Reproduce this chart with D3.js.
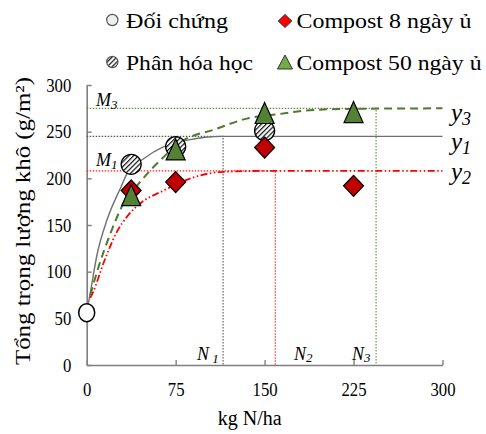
<!DOCTYPE html>
<html>
<head>
<meta charset="utf-8">
<script src="https://cdn.jsdelivr.net/npm/d3@7"></script>
<style>
  body { margin: 0; background: #fff; }
  text { font-family: "Liberation Serif", "Times New Roman", serif; }
</style>
</head>
<body>
<script>
// Measured points
const controlX = [0], controlY = [56];
const chemX = [37.5, 75, 150], chemY = [215, 234, 251];
const c8X = [37.5, 75, 150, 225], c8Y = [187, 196, 233, 192];
const c50X = [37.5, 75, 150, 225], c50Y = [182, 231, 270, 271];

// Fitted curves
const y1X = [0, 2, 9, 17, 29, 34, 48, 65, 85, 100, 115, 150, 300];
const y1Y = [57, 70, 120, 155, 191, 205, 221, 234, 241, 244, 245, 245, 245];
const y2X = [3, 5, 15, 26, 34, 45, 65, 90, 115, 157, 300];
const y2Y = [72, 77, 112, 144, 159, 173, 187, 201, 207, 208, 208];
const y3X = [3, 10, 20, 31, 43, 54, 65, 82, 107, 135, 163, 188, 225, 300];
const y3Y = [75, 105, 141, 173, 193, 209, 223, 241, 252, 264, 269, 273, 274.5, 275];

// Plateau (M) and optimum dose (N) marks
const mY = [245, 208, 275];
const nX = [115, 159, 244];

const xTicks = [0, 75, 150, 225, 300];
const yTicks = [0, 50, 100, 150, 200, 250, 300];

const width = 486, height = 434;

const x = d3.scaleLinear().domain([0, 300]).range([86.7, 442.5]);
const y = d3.scaleLinear().domain([0, 300]).range([365, 85]);

const svg = d3.select("body").append("svg")
  .attr("width", width)
  .attr("height", height);

svg.append("rect").attr("width", width).attr("height", height).attr("fill", "#fff");

// hatch for the chemical fertiliser circles
const defs = svg.append("defs");
const pat = defs.append("pattern")
  .attr("id", "hatch")
  .attr("patternUnits", "userSpaceOnUse")
  .attr("width", 3.4).attr("height", 3.4)
  .attr("patternTransform", "rotate(45)");
pat.append("rect").attr("width", 3.4).attr("height", 3.4).attr("fill", "#fff");
pat.append("line").attr("x1", 0).attr("y1", 0).attr("x2", 0).attr("y2", 3.4)
  .attr("stroke", "#111").attr("stroke-width", 2.4);

const zip = (xs, ys) => xs.map((v, i) => [v, ys[i]]);

// Axes
const axisColor = "#7f7f7f";
const gx = svg.append("g")
  .attr("transform", `translate(0,${y(0)})`)
  .call(d3.axisBottom(x).tickValues(xTicks).tickSizeInner(-5).tickSizeOuter(0).tickPadding(18));
const gy = svg.append("g")
  .attr("transform", `translate(${x(0)},0)`)
  .call(d3.axisLeft(y).tickValues(yTicks).tickSizeInner(-5).tickSizeOuter(0));

[gx, gy].forEach(g => {
  g.select(".domain").attr("stroke", axisColor).attr("stroke-width", 1.6);
  g.selectAll(".tick line").attr("stroke", axisColor).attr("stroke-width", 1.4);
  g.selectAll(".tick text")
    .attr("fill", "#000")
    .style("font-size", "19px")
    .style("font-family", "'Liberation Serif', serif");
});
gy.selectAll(".tick text").attr("x", -17.6).attr("transform", "scale(0.88,1)");
gx.selectAll(".tick text").attr("transform", "scale(0.88,1)");

// Axis titles
svg.append("text")
  .attr("x", x(137.5)).attr("y", 425)
  .attr("text-anchor", "middle")
  .style("font-size", "20px")
  .text("kg N/ha");

svg.append("text")
  .attr("transform", "translate(29.5,221) rotate(-90)")
  .attr("text-anchor", "middle")
  .attr("textLength", 288)
  .attr("lengthAdjust", "spacingAndGlyphs")
  .style("font-size", "21px")
  .text("Tổng trọng lượng khô (g/m²)");

// Reference lines: plateau to optimum dose, then down to the axis
const refColors = ["#555", "#ff2020", "#5f8f3f"];
mY.forEach((m, i) => {
  svg.append("path")
    .attr("fill", "none")
    .attr("stroke", refColors[i])
    .attr("stroke-width", 1.1)
    .attr("stroke-dasharray", "1.5,1.5")
    .attr("d", d3.line()([[x(0), y(m)], [x(nX[i]), y(m)], [x(nX[i]), y(0)]]));
});

// Curves
const line = d3.line().x(d => x(d[0])).y(d => y(d[1])).curve(d3.curveMonotoneX);

svg.append("path")
  .attr("fill", "none")
  .attr("stroke", "#707070")
  .attr("stroke-width", 1.4)
  .attr("d", line(zip(y1X, y1Y)));

svg.append("path")
  .attr("fill", "none")
  .attr("stroke", "#ff0000")
  .attr("stroke-width", 1.8)
  .attr("stroke-dasharray", "7,2.5,1.5,2.5,1.5,2.5")
  .attr("d", line(zip(y2X, y2Y)));

svg.append("path")
  .attr("fill", "none")
  .attr("stroke", "#4e7a2e")
  .attr("stroke-width", 2)
  .attr("stroke-dasharray", "8,5")
  .attr("d", line(zip(y3X, y3Y)));

// Markers
const diamond = (w, h) => `M0,${-h}L${w},0L0,${h}L${-w},0Z`;
const triangle = (w, h) => `M0,${-h}L${w},${h}L${-w},${h}Z`;

svg.append("g").selectAll("ellipse")
  .data(zip(controlX, controlY))
  .join("ellipse")
  .attr("cx", d => x(d[0])).attr("cy", d => y(d[1]))
  .attr("rx", 8).attr("ry", 9)
  .attr("fill", "#fff").attr("stroke", "#000").attr("stroke-width", 1.5);

svg.append("g").selectAll("circle")
  .data(zip(chemX, chemY))
  .join("circle")
  .attr("cx", d => x(d[0])).attr("cy", d => y(d[1]))
  .attr("r", 10)
  .attr("fill", "url(#hatch)").attr("stroke", "#000").attr("stroke-width", 1.3);

svg.append("g").selectAll("path")
  .data(zip(c8X, c8Y))
  .join("path")
  .attr("transform", d => `translate(${x(d[0])},${y(d[1])})`)
  .attr("d", diamond(10, 10.5))
  .attr("fill", "#c00000").attr("stroke", "#000").attr("stroke-width", 1.2);

svg.append("g").selectAll("path")
  .data(zip(c50X, c50Y))
  .join("path")
  .attr("transform", d => `translate(${x(d[0])},${y(d[1])})`)
  .attr("d", triangle(9.5, 10.5))
  .attr("fill", "#548235").attr("stroke", "#000").attr("stroke-width", 1.2);

// Curve and mark labels
function label(px, py, main, sub, size, subSize, subDy) {
  const t = svg.append("text")
    .attr("x", px).attr("y", py)
    .style("font-family", "'Liberation Serif', 'DejaVu Serif', serif")
    .style("font-size", size + "px")
    .style("font-style", "italic");
  t.append("tspan").text(main);
  t.append("tspan").attr("dy", subDy).style("font-size", subSize + "px").text(sub);
}
label(96, 105.5, "M", "3", 18, 13, 3);
label(96, 165.5, "M", "1", 18, 13, 3);
label(197, 359.5, "N", " 1", 18, 13, 3);
label(294, 359.5, "N", "2", 18, 13, 2);
label(352, 359.5, "N", "3", 18, 13, 2);
label(451, 121, "y", "3", 25, 18, 4);
label(451, 150, "y", "1", 25, 18, 4);
label(451, 180, "y", "2", 25, 18, 4);

// Legend
const lg = svg.append("g");
lg.append("circle").attr("cx", 112.3).attr("cy", 20).attr("r", 5.6)
  .attr("fill", "#eee").attr("stroke", "#555").attr("stroke-width", 1.2);
lg.append("circle").attr("cx", 112.3).attr("cy", 62).attr("r", 5.6)
  .attr("fill", "url(#hatch)").attr("stroke", "#555").attr("stroke-width", 1.2);
lg.append("path").attr("transform", "translate(285,21)").attr("d", diamond(6.8, 6.5))
  .attr("fill", "#ff0000").attr("stroke", "#333").attr("stroke-width", 1);
lg.append("path").attr("transform", "translate(285,62)").attr("d", triangle(7.5, 7))
  .attr("fill", "#70ad47").attr("stroke", "#333").attr("stroke-width", 1);

const legendText = [
  { t: "Đối chứng", x: 126, y: 27.5, w: 102 },
  { t: "Phân hóa học", x: 126, y: 69.5, w: 127 },
  { t: "Compost 8 ngày ủ", x: 296.5, y: 28, w: 175 },
  { t: "Compost 50 ngày ủ", x: 296.5, y: 69.5, w: 185 }
];
lg.selectAll("text")
  .data(legendText)
  .join("text")
  .attr("x", d => d.x).attr("y", d => d.y)
  .attr("textLength", d => d.w)
  .attr("lengthAdjust", "spacingAndGlyphs")
  .style("font-size", "21px")
  .text(d => d.t);
</script>
</body>
</html>
